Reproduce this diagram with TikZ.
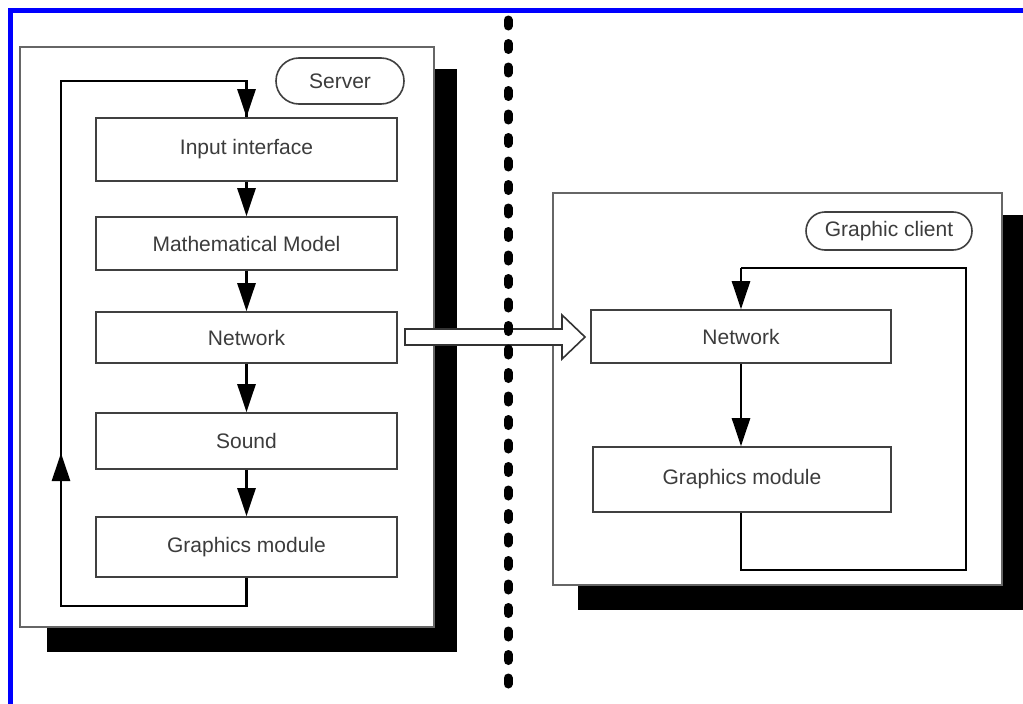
\documentclass[tikz,border=0pt]{standalone}
\usepackage{fontspec}
\setmainfont{Liberation Sans}
\usetikzlibrary{arrows.meta}
\definecolor{frameblue}{RGB}{0,0,255}
\definecolor{txtgray}{RGB}{60,60,60}
\tikzset{
  modbox/.style={draw=black!75, line width=1.6pt, fill=white, minimum width=301pt, inner sep=0pt,
     font=\fontsize{21}{25}\selectfont, text=txtgray},
  tagbox/.style={draw=black!75, line width=1.6pt, fill=white, rounded corners=19pt, inner sep=0pt,
     font=\fontsize{21}{25}\selectfont, text=txtgray},
  outerbox/.style={draw=black!60, line width=1.5pt, fill=white},
  shadowbox/.style={fill=black, draw=none},
  flow/.style={draw=black, line width=2.6pt},
  flowarrow/.style={flow, -{Triangle[length=28pt,width=18pt]}},
  dotline/.style={line width=9pt, line cap=round, dash pattern=on 6pt off 17.5pt},
  bigarrow/.style={draw=black!80, line width=1.6pt, fill=white, line join=miter}
}
\begin{document}
\begin{tikzpicture}[x=1pt,y=-1pt]
\useasboundingbox (0,0) rectangle (1023,704);
% blue frame
\draw[frameblue, line width=5pt] (10.5,720) -- (10.5,10.5) -- (1040,10.5);

% ---------- server ----------
\fill[shadowbox] (47,69) rectangle (457,652);
\draw[outerbox] (20,47) rectangle (434,627);
\node[tagbox, minimum width=128pt, minimum height=46pt, rounded corners=23pt] (stag) at (340,81) {Server};

\node[modbox, minimum height=63pt] (sin) at (246.5,149.5) {Input interface};
\node[modbox, minimum height=53pt] (smath) at (246.5,243.5) {Mathematical Model};
\node[modbox, minimum height=51pt] (snet) at (246.5,337.5) {Network};
\node[modbox, minimum height=56pt] (ssnd) at (246.5,441) {Sound};
\node[modbox, minimum height=60pt] (sgfx) at (246.5,547) {Graphics module};

\draw[flowarrow] (sin.south) -- (smath.north);
\draw[flowarrow] (smath.south) -- (snet.north);
\draw[flowarrow] (snet.south) -- (ssnd.north);
\draw[flowarrow] (ssnd.south) -- (sgfx.north);

\coordinate (sl1) at (sgfx.south |- 0,606);
\coordinate (sl2) at (61,606);
\coordinate (sl3) at (61,81);
\coordinate (sl4) at (sin.north |- 0,81);
\coordinate (slmid) at (61,453);
\draw[flow, line join=miter] (sgfx.south) -- (sl1) -- (sl2) -- (sl3) -- (sl4) -- (sin.north);
\draw[flowarrow] (sl2) -- (slmid);
\draw[flowarrow] (sl4) -- (sin.north);

% ---------- client ----------
\begin{scope}
\clip (0,0) rectangle (1023,704);
\fill[shadowbox] (578,215) rectangle (1040,610);
\end{scope}
\draw[outerbox] (553,193) rectangle (1002,585);
\node[tagbox, minimum width=166pt, minimum height=38pt] (ctag) at (889,231) {Graphic client};

\node[modbox, minimum width=300pt, minimum height=53pt] (cnet) at (741,336.5) {Network};
\node[modbox, minimum width=298pt, minimum height=65pt] (cgfx) at (742,479.5) {Graphics module};

\draw[flowarrow] (cnet.south) -- (cnet.south |- cgfx.north);
\coordinate (cl0) at (cnet.south |- cgfx.south);
\coordinate (cl1) at (cnet.south |- 0,570);
\coordinate (cl2) at (966,570);
\coordinate (cl3) at (966,268);
\coordinate (cl4) at (cnet.north |- 0,268);
\draw[flow, line join=miter] (cl0) -- (cl1) -- (cl2) -- (cl3) -- (cl4);
\draw[flowarrow] (cl4) -- (cnet.north);

% ---------- transfer arrow ----------
\coordinate (ba1) at (405,329);
\coordinate (ba2) at (562,329);
\coordinate (ba3) at (562,315);
\coordinate (batip) at (585,337);
\coordinate (ba5) at (562,359);
\coordinate (ba6) at (562,345);
\coordinate (ba7) at (405,345);
\draw[bigarrow] (ba1) -- (ba2) -- (ba3) -- (batip) -- (ba5) -- (ba6) -- (ba7) -- cycle;

% ---------- separator ----------
\coordinate (sepTop) at (508,20);
\coordinate (sepBot) at (508,700);
\draw[dotline] (sepTop) -- (sepBot);
\end{tikzpicture}
\end{document}
